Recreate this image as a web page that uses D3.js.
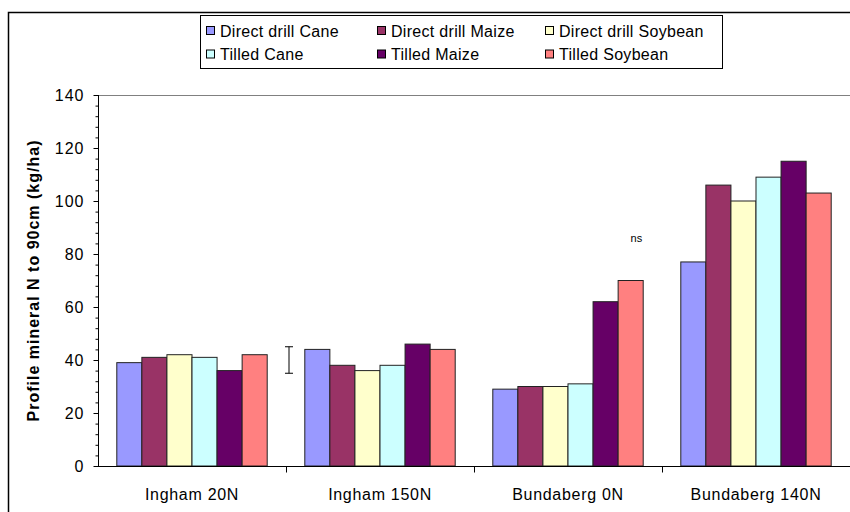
<!DOCTYPE html>
<html>
<head>
<meta charset="utf-8">
<script src="https://cdn.jsdelivr.net/npm/d3@7"></script>
<style>
  body { margin: 0; background: #fff; }
  text { font-family: "Liberation Sans", Arial, sans-serif; }
</style>
</head>
<body>
<script>
// chart data
var categories = ['Ingham 20N', 'Ingham 150N', 'Bundaberg 0N', 'Bundaberg 140N'];
var series = ['Direct drill Cane', 'Direct drill Maize', 'Direct drill Soybean',
	'Tilled Cane', 'Tilled Maize', 'Tilled Soybean'];
var colors = ['#9999ff', '#993366', '#ffffcc', '#ccffff', '#660066', '#ff8080'];
var values = [
	[39, 41, 42, 41, 36, 42],
	[44, 38, 36, 38, 46, 44],
	[29, 30, 30, 31, 62, 70],
	[77, 106, 100, 109, 115, 103]
];
var yTicks = [0, 20, 40, 60, 80, 100, 120, 140];
// LSD bar and the ns note
var lsd = [35, 45];
var nsValue = 86;

var width = 850,
	height = 512;

var margin = {left: 98, right: 0, top: 95, bottom: 46};

var svg = d3.select('body')
	.append('svg')
	.attr('width', width)
	.attr('height', height);

// outer chart frame (runs off the right/bottom of the picture)
svg.append('rect')
	.attr('x', 8.5).attr('y', 12.5)
	.attr('width', 900).attr('height', 600)
	.attr('fill', 'none')
	.attr('stroke', '#000')
	.attr('stroke-width', 1.5);

var x0 = d3.scaleBand()
	.domain(categories)
	.range([margin.left, width])
	.paddingInner(0.2)
	.paddingOuter(0.1);

var x1 = d3.scaleBand()
	.domain(series)
	.range([0, x0.bandwidth()]);

var y = d3.scaleLinear()
	.domain([0, 140])
	.range([height - margin.bottom, margin.top]);

// plot area border
svg.append('line')
	.attr('x1', margin.left).attr('x2', width)
	.attr('y1', y(140) + 0.5).attr('y2', y(140) + 0.5)
	.attr('stroke', '#808080');

// bars
var groups = svg.selectAll('g.cat')
	.data(values)
	.enter().append('g')
	.attr('class', 'cat')
	.attr('transform', function(d, i) { return 'translate(' + x0(categories[i]) + ',0)'; });

groups.selectAll('rect')
	.data(function(d) { return d; })
	.enter().append('rect')
	.attr('x', function(d, i) { return x1(series[i]); })
	.attr('y', function(d) { return y(d); })
	.attr('width', x1.bandwidth())
	.attr('height', function(d) { return y(0) - y(d); })
	.attr('fill', function(d, i) { return colors[i]; })
	.attr('stroke', '#222')
	.attr('stroke-width', 1);

// y axis with minor ticks
var yAxis = svg.append('g')
	.attr('transform', 'translate(' + (margin.left + 0.5) + ',0)')
	.call(d3.axisLeft(y).tickValues(d3.range(0, 141, 4)).tickSize(3).tickFormat(''));
yAxis.select('.domain').remove();

svg.append('g')
	.attr('transform', 'translate(' + (margin.left + 0.5) + ',0)')
	.call(d3.axisLeft(y).tickValues(yTicks).tickSize(5).tickPadding(9))
	.call(function(g) {
		g.selectAll('text')
			.style('font-size', '16px')
			.style('letter-spacing', '1px')
			.style('font-family', '"Liberation Sans", Arial, sans-serif')
			.attr('fill', '#000');
		g.select('.domain').attr('d', 'M0,' + y(0) + 'V' + y(140));
	});

// x axis
var xAxis = svg.append('g')
	.attr('transform', 'translate(0,' + (y(0) + 0.5) + ')')
	.call(d3.axisBottom(x0).tickSize(0).tickPadding(22))
	.call(function(g) {
		g.select('.domain').attr('d', 'M' + margin.left + ',0H' + width);
		g.selectAll('text')
			.style('font-size', '16px')
			.style('letter-spacing', '0.7px')
			.style('font-family', '"Liberation Sans", Arial, sans-serif')
			.attr('fill', '#000');
	});

// tick marks between categories
xAxis.selectAll('line.sep')
	.data(categories.slice(1))
	.enter().append('line')
	.attr('class', 'sep')
	.attr('x1', function(d) { return x0(d) - x0.step() * 0.1 + 0.5; })
	.attr('x2', function(d) { return x0(d) - x0.step() * 0.1 + 0.5; })
	.attr('y1', 0).attr('y2', 6)
	.attr('stroke', '#000');

// y axis title
svg.append('text')
	.attr('transform', 'translate(39,' + y(70) + ') rotate(-90)')
	.attr('text-anchor', 'middle')
	.style('font-size', '16px')
	.style('letter-spacing', '1px')
	.style('font-weight', 'bold')
	.text('Profile mineral N to 90cm (kg/ha)');

// LSD error bar in the gap after the first group
var ex = x0(categories[1]) - x0.step() * 0.1 + 3;
var eb = svg.append('g').attr('stroke', '#000').attr('stroke-width', 1);
eb.append('line').attr('x1', ex).attr('x2', ex).attr('y1', y(lsd[0])).attr('y2', y(lsd[1]));
eb.append('line').attr('x1', ex - 4).attr('x2', ex + 4).attr('y1', y(lsd[0])).attr('y2', y(lsd[0]));
eb.append('line').attr('x1', ex - 4).attr('x2', ex + 4).attr('y1', y(lsd[1])).attr('y2', y(lsd[1]));

// ns note
svg.append('text')
	.attr('x', x0(categories[2]) + x0.bandwidth() * 0.955)
	.attr('y', y(nsValue) + 4)
	.attr('text-anchor', 'middle')
	.style('font-size', '11px')
	.text('ns');

// legend
var legend = svg.append('g');
legend.append('rect')
	.attr('x', 200.5).attr('y', 15.5)
	.attr('width', 522).attr('height', 53)
	.attr('fill', '#fff')
	.attr('stroke', '#000');

var colX = [206, 377, 545];
var rowY = [31, 54.5];
var items = legend.selectAll('g.item')
	.data(series)
	.enter().append('g')
	.attr('class', 'item')
	.attr('transform', function(d, i) {
		return 'translate(' + colX[i % 3] + ',' + rowY[Math.floor(i / 3)] + ')';
	});

items.append('rect')
	.attr('x', 0.5).attr('y', -4.5)
	.attr('width', 8).attr('height', 8)
	.attr('fill', function(d, i) { return colors[i]; })
	.attr('stroke', '#000');

items.append('text')
	.attr('x', 14)
	.attr('y', 5.5)
	.style('font-size', '16px')
	.style('letter-spacing', '0.3px')
	.text(function(d) { return d; });
</script>
</body>
</html>
